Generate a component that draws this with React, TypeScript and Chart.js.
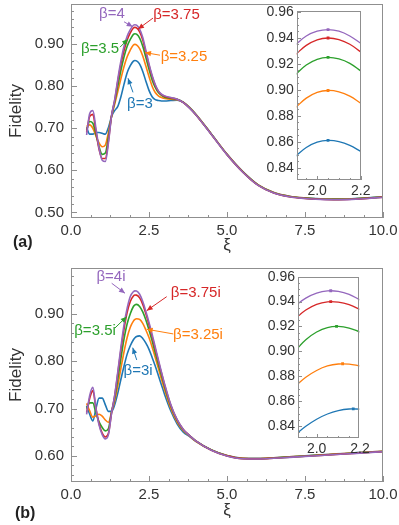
import React, { useEffect, useRef } from "react";
import { Chart, registerables } from "chart.js";

Chart.register(...registerables);

const FONT = '"Liberation Sans", Arial, Helvetica, sans-serif';
const TICK_COLOR = "#333333";
const FRAME_COLOR = "#8f8f8f";

const C_PURPLE = "#9467bd";
const C_RED = "#d62728";
const C_GREEN = "#2ca02c";
const C_ORANGE = "#ff7f0e";
const C_BLUE = "#1f77b4";

// ---------- data ----------
const XI = [0.5, 0.6, 0.7, 0.8, 0.9, 1.0, 1.1, 1.2, 1.3, 1.4, 1.5, 1.6, 1.7, 1.8, 1.9, 2.0, 2.05, 2.1, 2.2, 2.3, 2.4, 2.5, 2.6, 2.7, 2.8, 2.9, 3.0, 3.2, 3.4, 3.6, 3.8, 4.0, 4.5, 5.0, 5.5, 6.0, 6.5, 7.0, 7.5, 8.0, 8.5, 9.0, 9.5, 10.0];

// panel (a): beta real
const A_PURPLE = [0.684, 0.735, 0.742, 0.700, 0.652, 0.624, 0.621, 0.665, 0.730, 0.768, 0.817, 0.860, 0.895, 0.919, 0.9346, 0.9450, 0.9462, 0.9450, 0.9357, 0.916, 0.885, 0.853, 0.826, 0.804, 0.789, 0.781, 0.777, 0.773, 0.769, 0.761, 0.748, 0.732, 0.685, 0.637, 0.596, 0.564, 0.546, 0.537, 0.533, 0.531, 0.530, 0.531, 0.533, 0.536];
const A_RED = [0.690, 0.728, 0.733, 0.692, 0.650, 0.628, 0.628, 0.670, 0.730, 0.766, 0.812, 0.853, 0.885, 0.910, 0.9270, 0.9384, 0.9398, 0.9386, 0.9291, 0.910, 0.880, 0.850, 0.823, 0.802, 0.788, 0.780, 0.776, 0.772, 0.769, 0.7612, 0.7483, 0.7323, 0.6853, 0.6373, 0.5963, 0.5643, 0.5463, 0.5373, 0.5333, 0.5313, 0.5303, 0.5313, 0.5333, 0.5362];
const A_GREEN = [0.695, 0.716, 0.712, 0.685, 0.656, 0.638, 0.641, 0.680, 0.729, 0.762, 0.800, 0.838, 0.870, 0.895, 0.9115, 0.9234, 0.9249, 0.9237, 0.9145, 0.895, 0.868, 0.840, 0.815, 0.797, 0.785, 0.778, 0.774, 0.771, 0.769, 0.7615, 0.7487, 0.7327, 0.6857, 0.6378, 0.5968, 0.5648, 0.5468, 0.5378, 0.5338, 0.5318, 0.5308, 0.5318, 0.5338, 0.5365];
const A_ORANGE = [0.705, 0.708, 0.700, 0.682, 0.665, 0.656, 0.660, 0.690, 0.728, 0.757, 0.787, 0.818, 0.847, 0.870, 0.8861, 0.8979, 0.8994, 0.8983, 0.8896, 0.872, 0.848, 0.823, 0.800, 0.785, 0.777, 0.773, 0.771, 0.769, 0.768, 0.7617, 0.749, 0.733, 0.686, 0.638, 0.597, 0.5652, 0.5472, 0.5382, 0.5342, 0.5322, 0.5312, 0.5322, 0.5342, 0.5368];
const A_BLUE = [0.702, 0.686, 0.686, 0.690, 0.690, 0.688, 0.686, 0.702, 0.728, 0.742, 0.752, 0.775, 0.805, 0.832, 0.8487, 0.8596, 0.8610, 0.8601, 0.8525, 0.835, 0.812, 0.790, 0.775, 0.768, 0.766, 0.765, 0.765, 0.766, 0.767, 0.762, 0.7495, 0.7335, 0.6865, 0.6385, 0.5975, 0.5655, 0.5475, 0.5385, 0.5345, 0.5325, 0.5315, 0.5325, 0.5345, 0.537];

// panel (b): beta imaginary
const B_PURPLE = [0.688, 0.728, 0.745, 0.700, 0.665, 0.645, 0.636, 0.645, 0.690, 0.728, 0.778, 0.830, 0.877, 0.912, 0.9365, 0.9468, 0.9486, 0.9482, 0.9414, 0.926, 0.905, 0.882, 0.857, 0.830, 0.803, 0.777, 0.752, 0.708, 0.677, 0.656, 0.643, 0.632, 0.612, 0.600, 0.594, 0.5935, 0.595, 0.597, 0.599, 0.601, 0.603, 0.605, 0.607, 0.609];
const B_RED = [0.692, 0.722, 0.738, 0.700, 0.668, 0.648, 0.640, 0.648, 0.691, 0.727, 0.774, 0.824, 0.868, 0.903, 0.9261, 0.9378, 0.9398, 0.9395, 0.9337, 0.920, 0.900, 0.877, 0.852, 0.826, 0.800, 0.775, 0.750, 0.707, 0.676, 0.656, 0.643, 0.632, 0.6122, 0.6002, 0.5943, 0.5938, 0.5953, 0.5973, 0.5993, 0.6013, 0.6033, 0.6053, 0.6073, 0.6092];
const B_GREEN = [0.700, 0.712, 0.712, 0.690, 0.672, 0.660, 0.653, 0.658, 0.693, 0.722, 0.762, 0.806, 0.847, 0.879, 0.9003, 0.9155, 0.9191, 0.9200, 0.9155, 0.904, 0.887, 0.866, 0.843, 0.818, 0.793, 0.770, 0.746, 0.705, 0.675, 0.655, 0.643, 0.632, 0.6125, 0.6005, 0.5946, 0.5941, 0.5956, 0.5976, 0.5996, 0.6016, 0.6036, 0.6056, 0.6076, 0.6095];
const B_ORANGE = [0.711, 0.695, 0.682, 0.685, 0.688, 0.684, 0.676, 0.671, 0.693, 0.716, 0.748, 0.785, 0.820, 0.850, 0.8718, 0.8846, 0.8882, 0.8898, 0.8882, 0.880, 0.866, 0.850, 0.830, 0.808, 0.785, 0.762, 0.740, 0.700, 0.672, 0.653, 0.642, 0.631, 0.6125, 0.6008, 0.595, 0.5945, 0.596, 0.598, 0.600, 0.602, 0.604, 0.606, 0.608, 0.6098];
const B_BLUE = [0.706, 0.688, 0.674, 0.700, 0.722, 0.722, 0.708, 0.694, 0.694, 0.708, 0.733, 0.762, 0.790, 0.815, 0.8326, 0.8454, 0.8496, 0.8523, 0.8535, 0.848, 0.838, 0.825, 0.808, 0.790, 0.770, 0.750, 0.730, 0.695, 0.668, 0.650, 0.641, 0.631, 0.6128, 0.601, 0.5953, 0.5948, 0.5963, 0.5983, 0.6003, 0.6023, 0.6043, 0.6063, 0.6083, 0.610];

// insets (zoom around the main peak)
const INSET_X = [1.9, 1.95, 2.0, 2.05, 2.1, 2.15, 2.2];
const IA_PURPLE = [0.9346, 0.9413, 0.9450, 0.9462, 0.9450, 0.9413, 0.9357];
const IA_RED = [0.9270, 0.9341, 0.9384, 0.9398, 0.9386, 0.9350, 0.9291];
const IA_GREEN = [0.9115, 0.9190, 0.9234, 0.9249, 0.9237, 0.9203, 0.9145];
const IA_ORANGE = [0.8861, 0.8935, 0.8979, 0.8994, 0.8983, 0.8950, 0.8896];
const IA_BLUE = [0.8487, 0.8555, 0.8596, 0.8610, 0.8601, 0.8572, 0.8525];
const IB_PURPLE = [0.9365, 0.9428, 0.9468, 0.9486, 0.9482, 0.9458, 0.9414];
const IB_RED = [0.9261, 0.9332, 0.9378, 0.9398, 0.9395, 0.9375, 0.9337];
const IB_GREEN = [0.9003, 0.9093, 0.9155, 0.9191, 0.9200, 0.9187, 0.9155];
const IB_ORANGE = [0.8718, 0.8792, 0.8846, 0.8882, 0.8898, 0.8897, 0.8882];
const IB_BLUE = [0.8326, 0.8397, 0.8454, 0.8496, 0.8523, 0.8536, 0.8535];

const PEAK_A_X = [2.05, 2.05, 2.05, 2.05, 2.05];
const PEAK_A_Y = [0.9462, 0.9398, 0.9249, 0.8994, 0.8610];
const PEAK_B_X = [2.065, 2.065, 2.092, 2.12, 2.169];
const PEAK_B_Y = [0.9487, 0.9399, 0.9200, 0.8900, 0.8537];

const X_TICKS = [0, 2.5, 5, 7.5, 10];
const Y_TICKS_A = [0.5, 0.6, 0.7, 0.8, 0.9];
const Y_TICKS_B = [0.6, 0.7, 0.8, 0.9];
const INSET_Y_TICKS = [0.84, 0.86, 0.88, 0.9, 0.92, 0.94, 0.96];
const INSET_X_TICKS = [2.0, 2.2];

const SERIES_COLORS = [C_PURPLE, C_RED, C_GREEN, C_ORANGE, C_BLUE];
const SERIES_A = [A_PURPLE, A_RED, A_GREEN, A_ORANGE, A_BLUE];
const SERIES_B = [B_PURPLE, B_RED, B_GREEN, B_ORANGE, B_BLUE];
const INSET_A = [IA_PURPLE, IA_RED, IA_GREEN, IA_ORANGE, IA_BLUE];
const INSET_B = [IB_PURPLE, IB_RED, IB_GREEN, IB_ORANGE, IB_BLUE];

type Ann = { text: string; color: string; tx: number; ty: number; x0: number; y0: number; x1: number; y1: number };

const ANN_A: Ann[] = [
  { text: "β=4", color: C_PURPLE, tx: 1.31, ty: 0.9716, x0: 1.70, y0: 0.9532, x1: 1.978, y1: 0.9413 },
  { text: "β=3.75", color: C_RED, tx: 3.38, ty: 0.9692, x0: 2.628, y0: 0.962, x1: 2.147, y1: 0.9358 },
  { text: "β=3.5", color: C_GREEN, tx: 0.93, ty: 0.888, x0: 1.571, y0: 0.8928, x1: 1.827, y1: 0.912 },
  { text: "β=3.25", color: C_ORANGE, tx: 3.62, ty: 0.869, x0: 2.853, y0: 0.8737, x1: 2.372, y1: 0.880 },
  { text: "β=3", color: C_BLUE, tx: 2.21, ty: 0.7592, x0: 1.987, y0: 0.7854, x1: 1.827, y1: 0.8189 },
];
const ANN_B: Ann[] = [
  { text: "β=4i", color: C_PURPLE, tx: 1.28, ty: 0.9779, x0: 1.304, y0: 0.9646, x1: 1.731, y1: 0.9435 },
  { text: "β=3.75i", color: C_RED, tx: 4.0, ty: 0.944, x0: 3.067, y0: 0.9363, x1: 2.426, y1: 0.9068 },
  { text: "β=3.5i", color: C_GREEN, tx: 0.77, ty: 0.8639, x0: 1.41, y0: 0.8702, x1: 1.785, y1: 0.8941 },
  { text: "β=3.25i", color: C_ORANGE, tx: 4.07, ty: 0.8555, x0: 3.279, y0: 0.8576, x1: 2.426, y1: 0.8675 },
  { text: "β=3i", color: C_BLUE, tx: 2.15, ty: 0.7795, x0: 2.106, y0: 0.8027, x1: 1.978, y1: 0.8286 },
];

// ---------- helpers ----------
type DecorOpts = {
  xMinor: number; xMajor: number; yMinor: number; yMajor: number;
  majorLen: number; minorLen: number; fillWhite?: boolean; anns?: Ann[];
};

function decorPlugin(o: DecorOpts) {
  return {
    id: "decor",
    beforeDatasetsDraw(chart: any) {
      if (!o.fillWhite) return;
      const { ctx, chartArea: a } = chart;
      ctx.save();
      ctx.fillStyle = "#ffffff";
      ctx.fillRect(a.left, a.top, a.right - a.left, a.bottom - a.top);
      ctx.restore();
    },
    afterDatasetsDraw(chart: any) {
      const { ctx, chartArea: a } = chart;
      const xs = chart.scales.x;
      const ys = chart.scales.y;
      ctx.save();
      ctx.strokeStyle = FRAME_COLOR;
      ctx.lineWidth = 1;
      const L = Math.round(a.left), T = Math.round(a.top), R = Math.round(a.right), B = Math.round(a.bottom);
      ctx.strokeRect(L + 0.5, T + 0.5, R - L - 1, B - T - 1);
      ctx.beginPath();
      const tick = (scale: any, minor: number, major: number, horizontal: boolean) => {
        const k0 = Math.ceil(scale.min / minor - 1e-6);
        const k1 = Math.floor(scale.max / minor + 1e-6);
        for (let k = k0; k <= k1; k++) {
          const v = k * minor;
          const r = v / major;
          const isMajor = Math.abs(r - Math.round(r)) < 1e-6;
          const len = isMajor ? o.majorLen : o.minorLen;
          const p = Math.round(scale.getPixelForValue(v)) + 0.5;
          if (horizontal) {
            ctx.moveTo(p, B);
            ctx.lineTo(p, B - len);
          } else {
            ctx.moveTo(L, p);
            ctx.lineTo(L + len, p);
          }
        }
      };
      tick(xs, o.xMinor, o.xMajor, true);
      tick(ys, o.yMinor, o.yMajor, false);
      ctx.stroke();

      (o.anns || []).forEach((an) => {
        const x0 = xs.getPixelForValue(an.x0), y0 = ys.getPixelForValue(an.y0);
        const x1 = xs.getPixelForValue(an.x1), y1 = ys.getPixelForValue(an.y1);
        ctx.strokeStyle = an.color;
        ctx.fillStyle = an.color;
        ctx.lineWidth = 1;
        ctx.beginPath();
        ctx.moveTo(x0, y0);
        ctx.lineTo(x1, y1);
        ctx.stroke();
        const ang = Math.atan2(y1 - y0, x1 - x0);
        const hl = 6, hw = 2.6;
        const bx = x1 - hl * Math.cos(ang), by = y1 - hl * Math.sin(ang);
        ctx.beginPath();
        ctx.moveTo(x1, y1);
        ctx.lineTo(bx - hw * Math.sin(ang), by + hw * Math.cos(ang));
        ctx.lineTo(bx + hw * Math.sin(ang), by - hw * Math.cos(ang));
        ctx.closePath();
        ctx.fill();
        ctx.font = `15px ${FONT}`;
        ctx.textAlign = "center";
        ctx.textBaseline = "middle";
        ctx.fillText(an.text, xs.getPixelForValue(an.tx), ys.getPixelForValue(an.ty));
      });
      ctx.restore();
    },
  };
}

const zeroPad = (s: any) => {
  s.paddingTop = 0;
  s.paddingBottom = 0;
  s.paddingLeft = 0;
  s.paddingRight = 0;
};

function mainConfig(series: number[][], yMin: number, yMax: number, yTicks: number[], H: number, titlePad: number, anns: Ann[]): any {
  return {
    type: "line",
    data: {
      datasets: series.map((vals, i) => ({
        data: XI.map((x, j) => ({ x, y: vals[j] })),
        borderColor: SERIES_COLORS[i],
        borderWidth: 1.6,
        pointRadius: 0,
        fill: false,
        cubicInterpolationMode: "monotone",
      })),
    },
    options: {
      animation: false,
      responsive: false,
      maintainAspectRatio: false,
      layout: { padding: { top: 4, right: 16, left: 0, bottom: 0 } },
      plugins: { legend: { display: false }, tooltip: { enabled: false } },
      scales: {
        x: {
          type: "linear",
          min: 0,
          max: 10,
          afterBuildTicks: (s: any) => { s.ticks = X_TICKS.map((v) => ({ value: v })); },
          afterFit: (s: any) => { s.height = H - 218; zeroPad(s); },
          grid: { display: false, drawTicks: false },
          border: { display: false },
          ticks: { padding: 4, color: TICK_COLOR, autoSkip: false, maxRotation: 0, font: { family: FONT, size: 15 }, callback: (v: any) => Number(v).toFixed(1) },
          title: { display: true, text: "ξ", color: TICK_COLOR, font: { family: FONT, size: 17 }, padding: { top: 0, bottom: titlePad } },
        },
        y: {
          type: "linear",
          min: yMin,
          max: yMax,
          afterBuildTicks: (s: any) => { s.ticks = yTicks.map((v) => ({ value: v })); },
          afterFit: (s: any) => { s.width = 71; zeroPad(s); },
          grid: { display: false, drawTicks: false },
          border: { display: false },
          ticks: { padding: 7, color: TICK_COLOR, autoSkip: false, font: { family: FONT, size: 15 }, callback: (v: any) => Number(v).toFixed(2) },
          title: { display: true, text: "Fidelity", color: TICK_COLOR, font: { family: FONT, size: 17 }, padding: { top: 6, bottom: 0 } },
        },
      },
    },
    plugins: [decorPlugin({ xMinor: 0.625, xMajor: 2.5, yMinor: 0.02, yMajor: 0.1, majorLen: 6, minorLen: 3, anns })],
  };
}

function insetConfig(series: number[][], peakX: number[], peakY: number[], xMin: number, xMax: number, yMin: number, yMax: number,
  lay: { top: number; right: number; yWidth: number; xHeight: number }): any {
  const datasets: any[] = [
    {
      data: peakX.map((x, i) => ({ x, y: peakY[i] })),
      showLine: false,
      pointStyle: "rect",
      pointRadius: 2,
      pointBorderWidth: 0,
      pointBackgroundColor: SERIES_COLORS,
      pointBorderColor: SERIES_COLORS,
    },
  ];
  series.forEach((vals, i) => {
    datasets.push({
      data: INSET_X.map((x, j) => ({ x, y: vals[j] })),
      borderColor: SERIES_COLORS[i],
      borderWidth: 1.3,
      pointRadius: 0,
      fill: false,
      tension: 0.4,
    });
  });
  return {
    type: "line",
    data: { datasets },
    options: {
      animation: false,
      responsive: false,
      maintainAspectRatio: false,
      layout: { padding: { top: lay.top, right: lay.right, left: 0, bottom: 0 } },
      plugins: { legend: { display: false }, tooltip: { enabled: false } },
      scales: {
        x: {
          type: "linear",
          min: xMin,
          max: xMax,
          afterBuildTicks: (s: any) => { s.ticks = INSET_X_TICKS.map((v) => ({ value: v })); },
          afterFit: (s: any) => { s.height = lay.xHeight; zeroPad(s); },
          grid: { display: false, drawTicks: false },
          border: { display: false },
          ticks: { padding: 3, color: TICK_COLOR, autoSkip: false, maxRotation: 0, font: { family: FONT, size: 14 }, callback: (v: any) => Number(v).toFixed(1) },
        },
        y: {
          type: "linear",
          min: yMin,
          max: yMax,
          afterBuildTicks: (s: any) => { s.ticks = INSET_Y_TICKS.map((v) => ({ value: v })); },
          afterFit: (s: any) => { s.width = lay.yWidth; zeroPad(s); },
          grid: { display: false, drawTicks: false },
          border: { display: false },
          ticks: { padding: 3, color: TICK_COLOR, autoSkip: false, font: { family: FONT, size: 14 }, callback: (v: any) => Number(v).toFixed(2) },
        },
      },
    },
    plugins: [decorPlugin({ xMinor: 0.05, xMajor: 0.2, yMinor: 0.005, yMajor: 0.02, majorLen: 4, minorLen: 2, fillWhite: true })],
  };
}

export default function App() {
  const mainA = useRef<HTMLCanvasElement>(null);
  const insetA = useRef<HTMLCanvasElement>(null);
  const mainB = useRef<HTMLCanvasElement>(null);
  const insetB = useRef<HTMLCanvasElement>(null);

  useEffect(() => {
    const charts: Chart[] = [];
    charts.push(new Chart(mainA.current as HTMLCanvasElement, mainConfig(SERIES_A, 0.4866, 0.9955, Y_TICKS_A, 262, 6, ANN_A)));
    charts.push(new Chart(mainB.current as HTMLCanvasElement, mainConfig(SERIES_B, 0.545, 0.9968, Y_TICKS_B, 261, 4.3, ANN_B)));
    charts.push(new Chart(insetA.current as HTMLCanvasElement, insetConfig(INSET_A, PEAK_A_X, PEAK_A_Y, 1.906, 2.2, 0.8305, 0.9608,
      { top: 10.7, right: 15.3, yWidth: 60.7, xHeight: 25 })));
    charts.push(new Chart(insetB.current as HTMLCanvasElement, insetConfig(INSET_B, PEAK_B_X, PEAK_B_Y, 1.914, 2.197, 0.8303, 0.96,
      { top: 12.7, right: 16.7, yWidth: 62, xHeight: 26 })));
    return () => charts.forEach((c) => c.destroy());
  }, []);

  const labelStyle = (left: number, top: number): React.CSSProperties => ({
    position: "absolute", left, top, font: `bold 16px ${FONT}`, lineHeight: "18px", color: "#222",
  });

  return (
    <div style={{ position: "absolute", left: 0, top: 0, width: 399, height: 525, background: "#ffffff", overflow: "hidden" }}>
      <canvas ref={mainA} width={399} height={262} style={{ position: "absolute", left: 0, top: 0, width: 399, height: 262 }} />
      <canvas ref={mainB} width={399} height={261} style={{ position: "absolute", left: 0, top: 264, width: 399, height: 261 }} />
      <canvas ref={insetA} width={140} height={205} style={{ position: "absolute", left: 236, top: 0, width: 140, height: 205 }} />
      <canvas ref={insetB} width={140} height={200} style={{ position: "absolute", left: 236, top: 264, width: 140, height: 200 }} />
      <div style={labelStyle(13, 233)}>(a)</div>
      <div style={labelStyle(15, 504)}>(b)</div>
    </div>
  );
}
